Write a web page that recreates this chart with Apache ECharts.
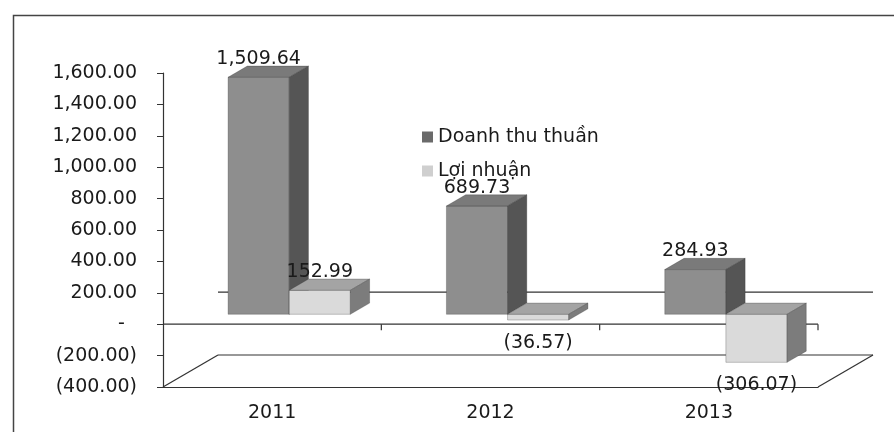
<!DOCTYPE html>
<html>
<head>
<meta charset="utf-8">
<script src="https://cdn.jsdelivr.net/npm/echarts@6/dist/echarts.min.js"></script>
<style>
  html, body { margin: 0; padding: 0; background: #fff; }
  #chart { width: 894px; height: 432px; }
</style>
</head>
<body>
<div id="chart"></div>
<script>
const categories = ['2011', '2012', '2013'];
const revenue = [1509.64, 689.73, 284.93];
const profit = [152.99, -36.57, -306.07];
const seriesNames = ['Doanh thu thuần', 'Lợi nhuận'];
const yMin = -400;
const yMax = 1600;
const yStep = 200;

// 3d look: offset of the back wall and where the bars sit in depth
const DX = 55, DY = -32;
const F0 = 0.31, F1 = 0.66;
const BAR_W = 0.28;
const FONT = 'DejaVu Sans';
const FS = 19;

function fmt (v) {
  return Math.abs(v).toLocaleString('en-US', { minimumFractionDigits: 2, maximumFractionDigits: 2 });
}
function valueLabel (v) {
  if (v === 0) return '-  ';
  return v < 0 ? '(' + fmt(v) + ')' : fmt(v);
}

function boxRenderer (side, faces) {
  return function (params, api) {
    const ci = api.value(0), v = api.value(1);
    const band = api.size([1, 0])[0];
    const c = api.coord([ci, 0]);
    const t = api.coord([ci, v]);
    const w = band * BAR_W;
    const x0 = c[0] + (side === 0 ? -w : 0) + DX * F0;
    const y0 = c[1] + DY * F0;
    const yv = t[1] + DY * F0;
    const top = Math.min(y0, yv), bot = Math.max(y0, yv);
    const dx = DX * (F1 - F0), dy = DY * (F1 - F0);
    const edge = { stroke: 'rgba(40,40,40,0.45)', lineWidth: 0.6 };
    const labelY = v >= 0 ? top + dy - 7 : bot + 23;
    return {
      type: 'group',
      children: [
        { type: 'rect', shape: { x: x0, y: top, width: w, height: bot - top },
          style: Object.assign({ fill: faces[0] }, edge) },
        { type: 'polygon', shape: { points: [[x0, top], [x0 + dx, top + dy], [x0 + w + dx, top + dy], [x0 + w, top]] },
          style: Object.assign({ fill: faces[1] }, edge) },
        { type: 'polygon', shape: { points: [[x0 + w, top], [x0 + w + dx, top + dy], [x0 + w + dx, bot + dy], [x0 + w, bot]] },
          style: Object.assign({ fill: faces[2] }, edge) },
        { type: 'text', z2: 10,
          style: { x: x0 + w / 2, y: labelY, text: valueLabel(v), fill: '#1a1a1a',
            font: FS + 'px "' + FONT + '"', align: 'center', verticalAlign: 'middle' } }
      ]
    };
  };
}

function frameRenderer (params, api) {
  const band = api.size([1, 0])[0];
  const n = categories.length;
  const left = api.coord([0, 0])[0] - band / 2;
  const right = api.coord([n - 1, 0])[0] + band / 2;
  const yZero = api.coord([0, 0])[1];
  const yFloor = api.coord([0, yMin])[1];
  const line = { stroke: '#333', lineWidth: 1.2 };
  const kids = [
    // back wall zero line
    { type: 'line', shape: { x1: left + DX, y1: yZero + DY, x2: right + DX, y2: yZero + DY }, style: line },
    // front zero line
    { type: 'line', shape: { x1: left, y1: yZero, x2: right, y2: yZero }, style: line },
    // floor
    { type: 'line', shape: { x1: left + DX, y1: yFloor + DY, x2: right + DX, y2: yFloor + DY }, style: line },
    { type: 'line', shape: { x1: left, y1: yFloor, x2: left + DX, y2: yFloor + DY }, style: line },
    { type: 'line', shape: { x1: right, y1: yFloor, x2: right + DX, y2: yFloor + DY }, style: line }
  ];
  for (let i = 1; i <= n; i++) {
    const x = left + band * i;
    kids.push({ type: 'line', shape: { x1: x, y1: yZero, x2: x, y2: yZero + 6 }, style: line });
  }
  return { type: 'group', children: kids };
}

const chart = echarts.init(document.getElementById('chart'), null, { renderer: 'canvas' });
chart.setOption({
  backgroundColor: '#fff',
  animation: false,
  textStyle: { fontFamily: FONT },
  graphic: [{
    type: 'rect', left: 11, top: 13, z: -10,
    shape: { width: 900, height: 440 },
    style: { fill: 'none', stroke: '#444', lineWidth: 1.5 }
  }],
  legend: {
    orient: 'vertical',
    left: 417,
    top: 121,
    itemWidth: 11,
    itemHeight: 11,
    itemGap: 12,
    icon: 'rect',
    textStyle: { fontSize: FS, color: '#1a1a1a', lineHeight: 22, fontFamily: FONT },
    data: seriesNames
  },
  grid: { left: 163, right: 76, top: 73, bottom: 45 },
  xAxis: {
    type: 'category',
    data: categories,
    axisLine: { onZero: false, lineStyle: { color: '#333', width: 1.2 } },
    axisTick: { show: false },
    axisLabel: { fontSize: FS, color: '#1a1a1a', margin: 17, fontFamily: FONT }
  },
  yAxis: {
    type: 'value',
    min: yMin,
    max: yMax,
    interval: yStep,
    splitLine: { show: false },
    axisLine: { show: true, lineStyle: { color: '#333', width: 1.2 } },
    axisTick: { show: true, length: 6, lineStyle: { color: '#333' } },
    axisLabel: { fontSize: FS, color: '#1a1a1a', margin: 26, fontFamily: FONT, formatter: valueLabel }
  },
  series: [
    {
      type: 'custom', name: 'frame', z: 1, silent: true,
      renderItem: frameRenderer,
      data: [[0, 0]]
    },
    {
      type: 'custom', name: seriesNames[0], z: 2,
      itemStyle: { color: '#6a6a6a' },
      renderItem: boxRenderer(0, ['#8e8e8e', '#7a7a7a', '#555555']),
      data: revenue.map((v, i) => [i, v])
    },
    {
      type: 'custom', name: seriesNames[1], z: 3,
      itemStyle: { color: '#cfcfcf' },
      renderItem: boxRenderer(1, ['#dadada', '#a4a4a4', '#7c7c7c']),
      data: profit.map((v, i) => [i, v])
    }
  ]
});
</script>
</body>
</html>
